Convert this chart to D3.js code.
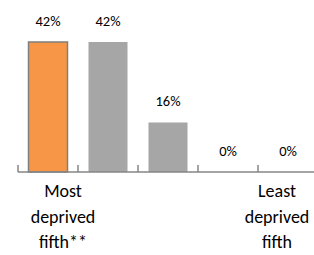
<!DOCTYPE html>
<html>
<head>
<meta charset="utf-8">
<script src="https://cdn.jsdelivr.net/npm/d3@7"></script>
<style>
  body { margin: 0; background: #fff; }
  text { font-family: Carlito, Calibri, Lato, sans-serif; fill: #000; }
</style>
</head>
<body>
<svg id="chart" width="314" height="255"></svg>
<script>
// data
const categories = ["q1", "q2", "q3", "q4", "q5"]
const values = [42, 42, 16, 0, 0]
const valueLabels = ["42%", "42%", "16%", "0%", "0%"]
const catLabels = [["Most", "deprived", "fifth**"], [], [], [], ["Least", "deprived", "fifth"]]
const catShift = [15, 0, 0, 0, -11]

const svg = d3.select("#chart")
const baseY = 172

let x = d3.scaleBand()
    .domain(categories)
    .range([18, 318])
    .paddingInner(0.35)
    .paddingOuter(0.175)

let y = d3.scaleLinear()
    .domain([0, 42])
    .range([baseY, 42])

// bars
svg.selectAll("rect.bar")
    .data(values)
    .join("rect")
    .attr("class", "bar")
    .attr("x", (d, i) => x(categories[i]))
    .attr("y", d => y(d))
    .attr("width", x.bandwidth())
    .attr("height", d => baseY - y(d))
    .attr("fill", (d, i) => i === 0 ? "#f79646" : "#a6a6a6")
    .attr("stroke", (d, i) => i === 0 ? "#7f7f7f" : "none")
    .attr("stroke-width", 1.5)

// axis line + ticks pointing up
let step = x.step()
let tickPos = d3.range(categories.length + 1).map(i => 18 + i * step)
let gAxis = svg.append("g")
    .attr("transform", `translate(0,${baseY})`)
gAxis.selectAll("line.tk")
    .data(tickPos)
    .join("line")
    .attr("class", "tk")
    .attr("x1", d => d).attr("x2", d => d)
    .attr("y1", 0).attr("y2", -7)
    .attr("stroke", "#868686")
    .attr("stroke-width", 1.5)
gAxis.append("line")
    .attr("x1", 18).attr("x2", 318)
    .attr("y1", 0).attr("y2", 0)
    .attr("stroke", "#868686")
    .attr("stroke-width", 1.5)

// value labels
svg.selectAll("text.val")
    .data(values)
    .join("text")
    .attr("class", "val")
    .attr("x", (d, i) => x(categories[i]) + x.bandwidth() / 2)
    .attr("y", d => y(d) - 16)
    .attr("text-anchor", "middle")
    .style("font-size", "14.5px")
    .text((d, i) => valueLabels[i])

// category labels
catLabels.forEach((lines, i) => {
    let cx = x(categories[i]) + x.bandwidth() / 2 + catShift[i]
    svg.append("text")
        .attr("text-anchor", "middle")
        .style("font-size", "18px")
        .selectAll("tspan")
        .data(lines)
        .join("tspan")
        .attr("x", cx)
        .attr("y", (d, j) => 197 + j * 25.5)
        .text(d => d)
})
</script>
</body>
</html>
